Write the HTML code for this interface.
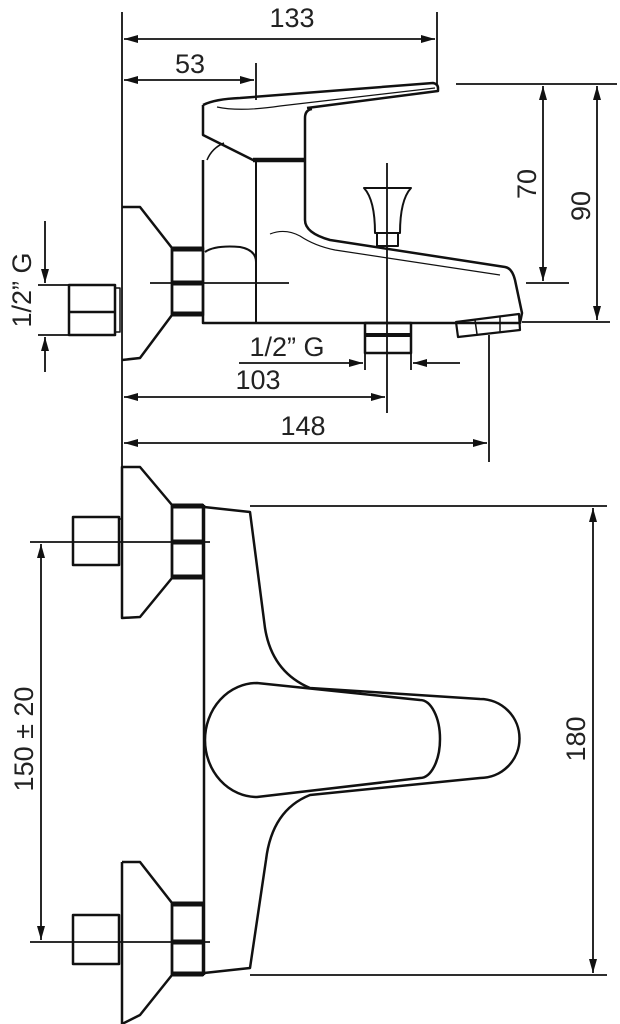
<!DOCTYPE html>
<html><head><meta charset="utf-8"><style>
html,body{margin:0;padding:0;background:#fff;}
svg{display:block;}
text{font-family:"Liberation Sans",sans-serif;fill:#222;font-size:27px;}
</style></head><body>
<svg width="620" height="1024" viewBox="0 0 620 1024" xmlns="http://www.w3.org/2000/svg">
<defs>
<marker id="a" viewBox="0 0 14 8" refX="14" refY="4" markerWidth="15" markerHeight="8" markerUnits="userSpaceOnUse" orient="auto-start-reverse">
<path d="M0,0 L14,4 L0,8 Z" fill="#111"/></marker>
</defs>
<g stroke="#111" fill="none" stroke-width="1.8">
<line x1="122" y1="12" x2="122" y2="467"/>
<line x1="437" y1="12" x2="437" y2="86"/>
<line x1="124" y1="39" x2="435" y2="39" marker-start="url(#a)" marker-end="url(#a)"/>
<line x1="256" y1="63" x2="256" y2="100"/>
<line x1="124" y1="80" x2="254" y2="80" marker-start="url(#a)" marker-end="url(#a)"/>
<line x1="456" y1="84" x2="617" y2="84"/>
<line x1="526" y1="283" x2="569" y2="283"/>
<line x1="522" y1="322" x2="610" y2="322"/>
<line x1="543" y1="86" x2="543" y2="281" marker-start="url(#a)" marker-end="url(#a)"/>
<line x1="597" y1="86" x2="597" y2="320" marker-start="url(#a)" marker-end="url(#a)"/>
<line x1="387" y1="163" x2="387" y2="413"/>
<line x1="124" y1="397" x2="385" y2="397" marker-start="url(#a)" marker-end="url(#a)"/>
<line x1="489" y1="335" x2="489" y2="462"/>
<line x1="124" y1="443" x2="487" y2="443" marker-start="url(#a)" marker-end="url(#a)"/>
<line x1="365" y1="352" x2="365" y2="370"/>
<line x1="411" y1="352" x2="411" y2="370"/>
<line x1="239" y1="363" x2="363" y2="363" marker-end="url(#a)"/>
<line x1="460" y1="363" x2="413" y2="363" marker-end="url(#a)"/>
<line x1="38" y1="285" x2="69" y2="285"/>
<line x1="38" y1="335" x2="69" y2="335"/>
<line x1="45" y1="221" x2="45" y2="283" marker-end="url(#a)"/>
<line x1="45" y1="372" x2="45" y2="337" marker-end="url(#a)"/>
<line x1="150" y1="283" x2="289" y2="283"/>
</g>
<g stroke="#111" fill="none" stroke-width="2.5" stroke-linejoin="round">
<path d="M122,207 L140,207 L172,248 L172,315 L140,358 L122,360"/>
<rect x="69" y="285" width="46" height="50"/>
<line x1="69" y1="312" x2="115" y2="312"/>
<rect x="115" y="288" width="5" height="44" stroke-width="1.5"/>
<rect x="172" y="248" width="31" height="67"/>
<line x1="172" y1="249" x2="203" y2="249" stroke-width="5"/>
<line x1="172" y1="283" x2="203" y2="283" stroke-width="5"/>
<line x1="172" y1="314" x2="203" y2="314" stroke-width="5"/>
<path d="M203,160 L203,323 L520,323 L522,313 L515,280 Q512,268 505,267 L330,240 Q305,233 305,220 L305,118 Q305,110 312,109"/>
<path d="M203,105 L203,135 L253,160 L305,160"/>
<line x1="253" y1="160" x2="305" y2="160" stroke-width="4.5"/>
<path d="M203,105 Q215,99 240,98 L433,83 Q438,84 438,88 L438,91 L307,108"/>
<path d="M217,107 Q240,112 280,106 L435,88" stroke-width="1.2"/>
<path d="M207,160 Q212,148 224,143" stroke-width="1.5"/>
<line x1="256" y1="160" x2="256" y2="323" stroke-width="2"/>
<path d="M205,252 Q215,245 240,247 Q256,250 256,262" stroke-width="2"/>
<path d="M270,234 Q285,228 300,236 Q315,246 335,250 L500,275" stroke-width="1.2"/>
<path d="M364,188 L411,188 Q400,200 400,233 L375,233 Q375,200 364,188 Z" stroke-width="2"/>
<rect x="377" y="233" width="21" height="13" stroke-width="2"/>
<rect x="365" y="323" width="46" height="30"/>
<line x1="365" y1="335" x2="411" y2="335" stroke-width="4"/>
<path d="M456,322 L519,314 L520,330 L458,337 Z" stroke-width="2.2"/>
<line x1="475" y1="320" x2="477" y2="334" stroke-width="1.5"/>
<line x1="500" y1="316" x2="500" y2="332" stroke-width="1.5"/>
</g>
<g stroke="#111" fill="none" stroke-width="1.8">
<line x1="30" y1="542" x2="210" y2="542"/>
<line x1="30" y1="942" x2="210" y2="942"/>
<line x1="41" y1="544" x2="41" y2="940" marker-start="url(#a)" marker-end="url(#a)"/>
<line x1="250" y1="506" x2="607" y2="506"/>
<line x1="250" y1="975" x2="607" y2="975"/>
<line x1="593" y1="508" x2="593" y2="973" marker-start="url(#a)" marker-end="url(#a)"/>
</g>
<g stroke="#111" fill="none" stroke-width="2.5" stroke-linejoin="round">
<path d="M122,467 L140,467 L172,505 L172,578 L140,617 L122,618 Z"/>
<rect x="73" y="517" width="46" height="48"/>
<line x1="119" y1="519" x2="122" y2="519" stroke-width="1.5"/>
<rect x="172" y="505" width="31" height="73"/>
<line x1="172" y1="506" x2="203" y2="506" stroke-width="5"/>
<line x1="172" y1="542" x2="203" y2="542" stroke-width="5"/>
<line x1="172" y1="577" x2="203" y2="577" stroke-width="5"/>
<path d="M122,862 L140,862 L172,903 L172,975 L140,1015 L122,1024 L122,862"/>
<rect x="73" y="915" width="46" height="49"/>
<rect x="172" y="903" width="31" height="72"/>
<line x1="172" y1="904" x2="203" y2="904" stroke-width="5"/>
<line x1="172" y1="942" x2="203" y2="942" stroke-width="5"/>
<line x1="172" y1="974" x2="203" y2="974" stroke-width="5"/>
<line x1="204" y1="505" x2="204" y2="975"/>
<path d="M204,507 L250,512 L265,628 Q272,672 310,688 L480,699 A39,39 0 0 1 480,778 L310,795 Q272,810 266,860 L250,968 L204,973"/>
<path d="M257,683 L420,700 A20,39 0 0 1 420,778 L257,797 A52,57 0 0 1 257,683 Z"/>
</g>
<text x="292" y="27" text-anchor="middle">133</text>
<text x="190" y="73" text-anchor="middle">53</text>
<text x="287" y="356" text-anchor="middle">1/2” G</text>
<text x="258" y="389" text-anchor="middle">103</text>
<text x="303" y="435" text-anchor="middle">148</text>
<text transform="translate(536,184) rotate(-90)" text-anchor="middle">70</text>
<text transform="translate(590,206) rotate(-90)" text-anchor="middle">90</text>
<text transform="translate(31,290) rotate(-90)" text-anchor="middle">1/2” G</text>
<text transform="translate(33,739) rotate(-90)" text-anchor="middle">150 ± 20</text>
<text transform="translate(585,739) rotate(-90)" text-anchor="middle">180</text>
</svg>
</body></html>
